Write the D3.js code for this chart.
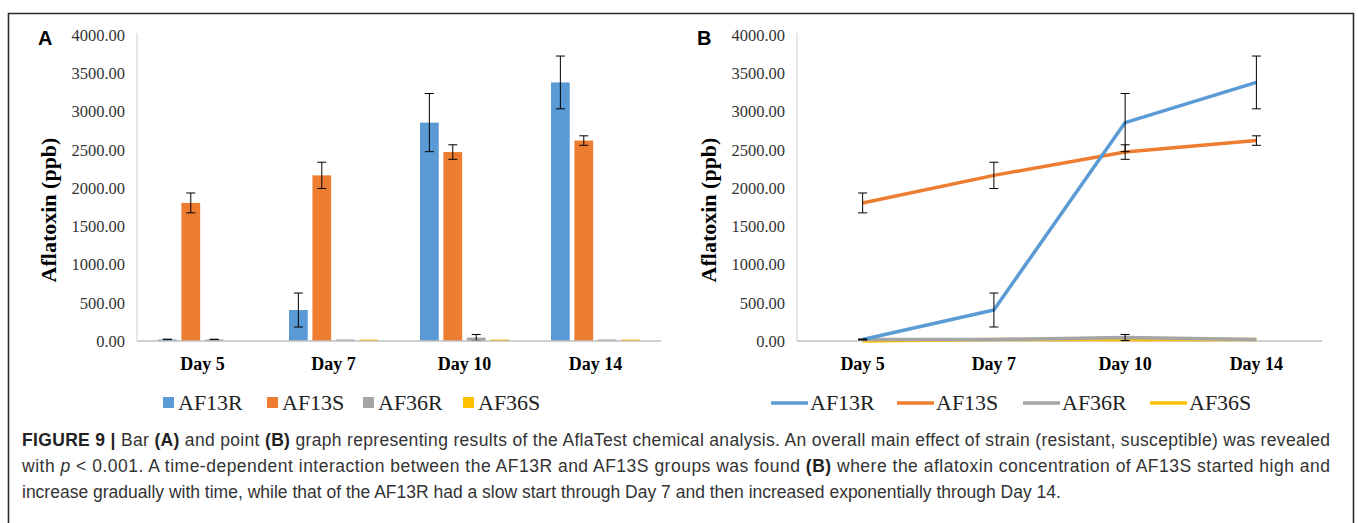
<!DOCTYPE html>
<html>
<head>
<meta charset="utf-8">
<script src="https://cdn.jsdelivr.net/npm/d3@7"></script>
<style>
	body { margin: 0; background: #fff; }
	svg { display: block; }
	.tick-label { font-family: "Liberation Serif", "Times New Roman", serif; font-size: 16.5px; fill: #333; }
	.cat-label { font-family: "Liberation Serif", "Times New Roman", serif; font-size: 18px; font-weight: bold; fill: #000; }
	.axis-title { font-family: "Liberation Serif", "Times New Roman", serif; font-size: 22px; font-weight: bold; fill: #000; }
	.legend-text { font-family: "Liberation Serif", "Times New Roman", serif; font-size: 22px; fill: #222; }
	.panel-label { font-family: "Liberation Sans", Arial, sans-serif; font-size: 20px; font-weight: bold; fill: #000; }
	.caption { font-family: "Liberation Sans", Arial, sans-serif; font-size: 17.5px; fill: #333; }
</style>
</head>
<body>
<svg id="chart" width="1358" height="523"></svg>
<script>
const days = ['Day 5', 'Day 7', 'Day 10', 'Day 14'];
const seriesNames = ['AF13R', 'AF13S', 'AF36R', 'AF36S'];
const seriesColors = ['#5B9BD5', '#ED7D31', '#A5A5A5', '#FFC000'];

// mean aflatoxin (ppb) per day
const af13r = [20, 405, 2855, 3380];
const af13s = [1805, 2165, 2470, 2620];
const af36r = [20, 20, 45, 20];
const af36s = [0, 20, 20, 20];

// error bar half-lengths
const af13rErr = [4, 222, 380, 345];
const af13sErr = [130, 172, 95, 62];
const af36rErr = [3, 0, 40, 0];
const af36sErr = [0, 0, 0, 0];

const yTicks = [0, 500, 1000, 1500, 2000, 2500, 3000, 3500, 4000];

const captionLines = [
	[['FIGURE 9 | ', 'b'], ['Bar '], ['(A)', 'b'], [' and point '], ['(B)', 'b'], [' graph representing results of the AflaTest chemical analysis. An overall main effect of strain (resistant, susceptible) was revealed']],
	[['with '], ['p', 'i'], [' < 0.001. A time-dependent interaction between the AF13R and AF13S groups was found '], ['(B)', 'b'], [' where the aflatoxin concentration of AF13S started high and']],
	[['increase gradually with time, while that of the AF13R had a slow start through Day 7 and then increased exponentially through Day 14.']]
];

const values = [af13r, af13s, af36r, af36s];
const errors = [af13rErr, af13sErr, af36rErr, af36sErr];

const svg = d3.select('#chart');

// frame around both panels
svg.append('path')
	.attr('d', 'M8.5,530 V13.5 H1353.5 V530')
	.attr('fill', 'none')
	.attr('stroke', '#2b2b2b')
	.attr('stroke-width', 1.6);

const y = d3.scaleLinear().domain([0, 4000]).range([341, 35]);

function drawFrame(g, x0, x1, label, labelX, titleX) {
	const x = d3.scaleBand().domain(days).range([x0, x1]);

	g.append('line')
		.attr('x1', x0).attr('x2', x0)
		.attr('y1', y(4000) - 2).attr('y2', y(0))
		.attr('stroke', '#d0d0d0').attr('stroke-width', 1);

	g.selectAll('.tick-label')
		.data(yTicks)
		.join('text')
		.attr('class', 'tick-label')
		.attr('x', x0 - 12)
		.attr('y', d => y(d))
		.attr('dy', '0.35em')
		.attr('text-anchor', 'end')
		.text(d => d3.format('.2f')(d));

	g.selectAll('.cat-label')
		.data(days)
		.join('text')
		.attr('class', 'cat-label')
		.attr('x', d => x(d) + x.bandwidth() / 2)
		.attr('y', 370)
		.attr('text-anchor', 'middle')
		.text(d => d);

	g.append('text')
		.attr('class', 'axis-title')
		.attr('transform', `translate(${titleX},210) rotate(-90)`)
		.attr('text-anchor', 'middle')
		.attr('dy', '0.35em')
		.text('Aflatoxin (ppb)');

	g.append('text')
		.attr('class', 'panel-label')
		.attr('x', labelX)
		.attr('y', 45)
		.text(label);

	return x;
}

function errorBar(g, cx, v, e) {
	if (!e) return;
	const top = y(v + e);
	const bottom = y(Math.max(0, v - e));
	g.append('line')
		.attr('x1', cx).attr('x2', cx)
		.attr('y1', top).attr('y2', bottom)
		.attr('stroke', '#000').attr('stroke-width', 1);
	g.selectAll(null)
		.data([top, bottom])
		.join('line')
		.attr('x1', cx - 4.5).attr('x2', cx + 4.5)
		.attr('y1', d => d).attr('y2', d => d)
		.attr('stroke', '#000').attr('stroke-width', 1);
}

// ---- panel A: grouped bars ----
const gA = svg.append('g');
const xA = drawFrame(gA, 137, 661, 'A', 38, 48);
const inner = d3.scaleBand().domain(seriesNames).range([-44.5, 44.5]).paddingInner(0.2);

seriesNames.forEach((name, si) => {
	const sg = gA.append('g');
	sg.selectAll('rect')
		.data(days)
		.join('rect')
		.attr('x', (d, i) => xA(d) + xA.bandwidth() / 2 + inner(name))
		.attr('width', inner.bandwidth())
		.attr('y', (d, i) => y(values[si][i]))
		.attr('height', (d, i) => y(0) - y(values[si][i]))
		.attr('fill', seriesColors[si]);
	days.forEach((d, i) => {
		errorBar(sg, xA(d) + xA.bandwidth() / 2 + inner(name) + inner.bandwidth() / 2, values[si][i], errors[si][i]);
	});
});

gA.append('line')
	.attr('x1', 137).attr('x2', 661)
	.attr('y1', y(0)).attr('y2', y(0))
	.attr('stroke', '#bfbfbf').attr('stroke-width', 1.5);

// legend A
const legendA = [163, 267, 363, 463];
seriesNames.forEach((name, si) => {
	gA.append('rect')
		.attr('x', legendA[si]).attr('y', 397)
		.attr('width', 11).attr('height', 11)
		.attr('fill', seriesColors[si]);
	gA.append('text')
		.attr('class', 'legend-text')
		.attr('x', legendA[si] + 15).attr('y', 410)
		.text(name);
});

// ---- panel B: lines ----
const gB = svg.append('g');
const xB = drawFrame(gB, 797, 1322, 'B', 697, 708);
const line = d3.line()
	.x((v, i) => xB(days[i]) + xB.bandwidth() / 2)
	.y(v => y(v));

gB.append('line')
	.attr('x1', 797).attr('x2', 1322)
	.attr('y1', y(0)).attr('y2', y(0))
	.attr('stroke', '#bfbfbf').attr('stroke-width', 1.5);

// draw back to front so the blue and orange sit on top
[3, 2, 1, 0].forEach(si => {
	gB.append('path')
		.attr('d', line(values[si]))
		.attr('fill', 'none')
		.attr('stroke', seriesColors[si])
		.attr('stroke-width', 3.5)
		.attr('stroke-linejoin', 'round');
});
[0, 1, 2, 3].forEach(si => {
	days.forEach((d, i) => {
		errorBar(gB, xB(d) + xB.bandwidth() / 2, values[si][i], errors[si][i]);
	});
});

// legend B
const legendB = [771, 897, 1023, 1150];
seriesNames.forEach((name, si) => {
	gB.append('line')
		.attr('x1', legendB[si]).attr('x2', legendB[si] + 37)
		.attr('y1', 403).attr('y2', 403)
		.attr('stroke', seriesColors[si]).attr('stroke-width', 3.5);
	gB.append('text')
		.attr('class', 'legend-text')
		.attr('x', legendB[si] + 39).attr('y', 410)
		.text(name);
});

// ---- caption ----
const cap = svg.append('g');
captionLines.forEach((parts, li) => {
	const t = cap.append('text')
		.attr('class', 'caption')
		.attr('x', 22)
		.attr('y', 446 + li * 26);
	parts.forEach(([s, style]) => {
		t.append('tspan')
			.attr('font-weight', style === 'b' ? 'bold' : null)
			.attr('font-style', style === 'i' ? 'italic' : null)
			.attr('fill', style === 'b' ? '#222' : null)
			.text(s);
	});
	// first two lines are justified to the right margin
	if (li < 2) t.attr('textLength', 1308).attr('lengthAdjust', 'spacing');
});
</script>
</body>
</html>
